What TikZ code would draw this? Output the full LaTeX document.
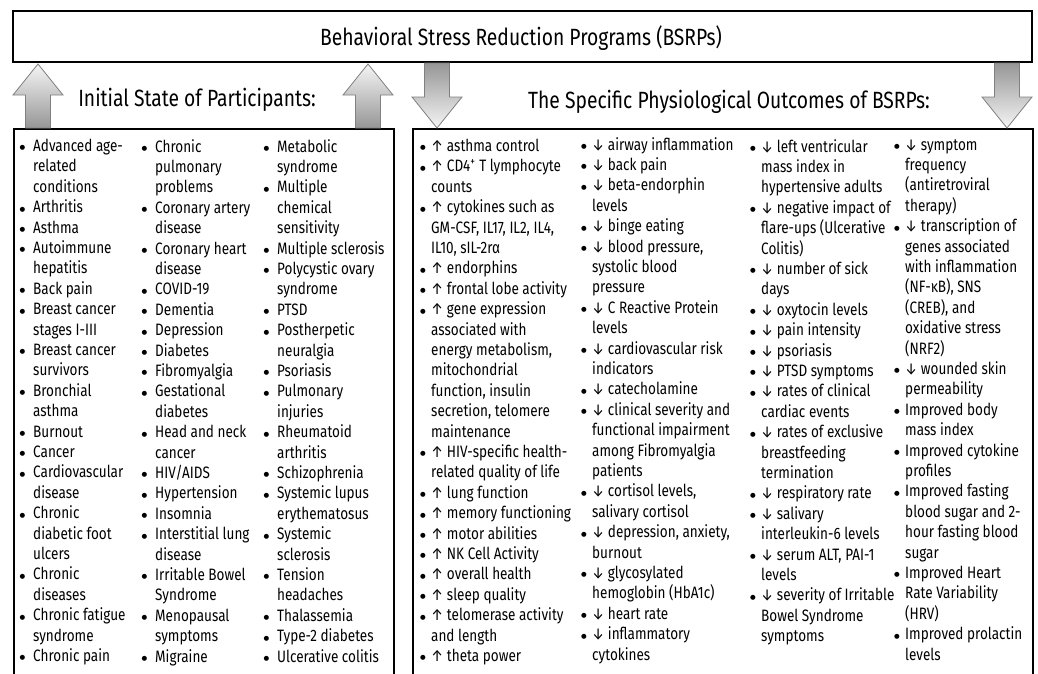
\documentclass[tikz,border=0pt]{standalone}
\usepackage{fontspec}
\setmainfont{Fira Sans}[FakeStretch=0.82]
\newfontfamily\symfont{DejaVu Sans}
\newcommand\bul{\raisebox{1.6pt}{\symfont\fontsize{6.5}{6.5}\selectfont ●}}
\newcommand\Bu{\makebox[14pt][l]{\hspace{0.5pt}\bul}}
\newcommand\In{\hspace*{14pt}}
\newcommand\Bv{\makebox[11pt][l]{\bul}}
\newcommand\Iv{\hspace*{11pt}}
\begin{document}
\begin{tikzpicture}[x=1pt,y=-1pt,
  box/.style={draw=black, line width=1.8pt, fill=white, inner sep=0pt},
  listcol/.style={anchor=north west, align=left, inner sep=0pt, font=\fontsize{16.5}{20.4}\selectfont},
  ttl/.style={inner sep=0pt, font=\fontsize{23.5}{26}\selectfont},
  blockup/.style={draw={rgb,255:red,128;green,128;blue,128}, line width=0.8pt, top color={rgb,255:red,245;green,245;blue,245}, bottom color={rgb,255:red,150;green,150;blue,150}},
  blockdown/.style={draw={rgb,255:red,128;green,128;blue,128}, line width=0.8pt, top color={rgb,255:red,150;green,150;blue,150}, bottom color={rgb,255:red,245;green,245;blue,245}}]
\useasboundingbox (0,0) rectangle (1038,673);
\clip (0,0) rectangle (1038,673);
\fill[white] (0,0) rectangle (1038,673);

% boxes
\node[box, minimum width=1019pt, minimum height=51pt] (bsrp) at (522.5,36.5) {};
\node[ttl] (bsrptxt) at (521,38) {Behavioral Stress Reduction Programs (BSRPs)};
\node[box, anchor=north west, minimum width=380pt, minimum height=580pt] (initbox) at (13,128) {};
\node[box, anchor=north west, minimum width=620pt, minimum height=580pt] (outbox) at (412,128) {};

% titles
\node[ttl] (inittitle) at (197,100) {Initial State of Participants:};
\node[ttl] (outtitle) at (729,102) {The Specific Physiological Outcomes of BSRPs:};

% block arrows (up: from lower box to top box; down: from top box to lower box)
\foreach \cx in {38,368}{
  \path[blockup] (\cx-12.5,128) -- (\cx-12.5,95) -- (\cx-25,95) -- (\cx,64) -- (\cx+25,95) -- (\cx+12.5,95) -- (\cx+12.5,128) -- cycle;
}
\foreach \cx in {437,1007}{
  \path[blockdown] (\cx-12.5,63) -- (\cx-12.5,97) -- (\cx-25,97) -- (\cx,128) -- (\cx+25,97) -- (\cx+12.5,97) -- (\cx+12.5,63) -- cycle;
}

% left lists
\node[listcol] (l1) at (19,139) {%
\Bu Advanced age-\\ \In related\\ \In conditions\\
\Bu Arthritis\\
\Bu Asthma\\
\Bu Autoimmune\\ \In hepatitis\\
\Bu Back pain\\
\Bu Breast cancer\\ \In stages I-III\\
\Bu Breast cancer\\ \In survivors\\
\Bu Bronchial\\ \In asthma\\
\Bu Burnout\\
\Bu Cancer\\
\Bu Cardiovascular\\ \In disease\\
\Bu Chronic\\ \In diabetic foot\\ \In ulcers\\
\Bu Chronic\\ \In diseases\\
\Bu Chronic fatigue\\ \In syndrome\\
\Bu Chronic pain};

\node[listcol] (l2) at (141,139) {%
\Bu Chronic\\ \In pulmonary\\ \In problems\\
\Bu Coronary artery\\ \In disease\\
\Bu Coronary heart\\ \In disease\\
\Bu COVID-19\\
\Bu Dementia\\
\Bu Depression\\
\Bu Diabetes\\
\Bu Fibromyalgia\\
\Bu Gestational\\ \In diabetes\\
\Bu Head and neck\\ \In cancer\\
\Bu HIV/AIDS\\
\Bu Hypertension\\
\Bu Insomnia\\
\Bu Interstitial lung\\ \In disease\\
\Bu Irritable Bowel\\ \In Syndrome\\
\Bu Menopausal\\ \In symptoms\\
\Bu Migraine};

\node[listcol] (l3) at (263,139) {%
\Bu Metabolic\\ \In syndrome\\
\Bu Multiple\\ \In chemical\\ \In sensitivity\\
\Bu Multiple sclerosis\\
\Bu Polycystic ovary\\ \In syndrome\\
\Bu PTSD\\
\Bu Postherpetic\\ \In neuralgia\\
\Bu Psoriasis\\
\Bu Pulmonary\\ \In injuries\\
\Bu Rheumatoid\\ \In arthritis\\
\Bu Schizophrenia\\
\Bu Systemic lupus\\ \In erythematosus\\
\Bu Systemic\\ \In sclerosis\\
\Bu Tension\\ \In headaches\\
\Bu Thalassemia\\
\Bu Type-2 diabetes\\
\Bu Ulcerative colitis};

% right lists
\node[listcol] (r1) at (420,139) {%
\Bv ↑ asthma control\\
\Bv ↑ CD4\textsuperscript{+} T lymphocyte\\ \Iv counts\\
\Bv ↑ cytokines such as\\ \Iv GM-CSF, IL17, IL2, IL4,\\ \Iv IL10, sIL-2rα\\
\Bv ↑ endorphins\\
\Bv ↑ frontal lobe activity\\
\Bv ↑ gene expression\\ \Iv associated with\\ \Iv energy metabolism,\\ \Iv mitochondrial\\ \Iv function, insulin\\ \Iv secretion, telomere\\ \Iv maintenance\\
\Bv ↑ HIV-specific health-\\ \Iv related quality of life\\
\Bv ↑ lung function\\
\Bv ↑ memory functioning\\
\Bv ↑ motor abilities\\
\Bv ↑ NK Cell Activity\\
\Bv ↑ overall health\\
\Bv ↑ sleep quality\\
\Bv ↑ telomerase activity\\ \Iv and length\\
\Bv ↑ theta power};

\node[listcol] (r2) at (581,137) {%
\Bv ↓ airway inflammation\\
\Bv ↓ back pain\\
\Bv ↓ beta-endorphin\\ \Iv levels\\
\Bv ↓ binge eating\\
\Bv ↓ blood pressure,\\ \Iv systolic blood\\ \Iv pressure\\
\Bv ↓ C Reactive Protein\\ \Iv levels\\
\Bv ↓ cardiovascular risk\\ \Iv indicators\\
\Bv ↓ catecholamine\\
\Bv ↓ clinical severity and\\ \Iv functional impairment\\ \Iv among Fibromyalgia\\ \Iv patients\\
\Bv ↓ cortisol levels,\\ \Iv salivary cortisol\\
\Bv ↓ depression, anxiety,\\ \Iv burnout\\
\Bv ↓ glycosylated\\ \Iv hemoglobin (HbA1c)\\
\Bv ↓ heart rate\\
\Bv ↓ inflammatory\\ \Iv cytokines};

\node[listcol] (r3) at (750,139) {%
\Bv ↓ left ventricular\\ \Iv mass index in\\ \Iv hypertensive adults\\
\Bv ↓ negative impact of\\ \Iv flare-ups (Ulcerative\\ \Iv Colitis)\\
\Bv ↓ number of sick\\ \Iv days\\
\Bv ↓ oxytocin levels\\
\Bv ↓ pain intensity\\
\Bv ↓ psoriasis\\
\Bv ↓ PTSD symptoms\\
\Bv ↓ rates of clinical\\ \Iv cardiac events\\
\Bv ↓ rates of exclusive\\ \Iv breastfeeding\\ \Iv termination\\
\Bv ↓ respiratory rate\\
\Bv ↓ salivary\\ \Iv interleukin-6 levels\\
\Bv ↓ serum ALT, PAI-1\\ \Iv levels\\
\Bv ↓ severity of Irritable\\ \Iv Bowel Syndrome\\ \Iv symptoms};

\node[listcol] (r4) at (894,139) {%
\Bv ↓ symptom\\ \Iv frequency\\ \Iv (antiretroviral\\ \Iv therapy)\\
\Bv ↓ transcription of\\ \Iv genes associated\\ \Iv with inflammation\\ \Iv (NF-κB), SNS\\ \Iv (CREB), and\\ \Iv oxidative stress\\ \Iv (NRF2)\\
\Bv ↓ wounded skin\\ \Iv permeability\\
\Bv Improved body\\ \Iv mass index\\
\Bv Improved cytokine\\ \Iv profiles\\
\Bv Improved fasting\\ \Iv blood sugar and 2-\\ \Iv hour fasting blood\\ \Iv sugar\\
\Bv Improved Heart\\ \Iv Rate Variability\\ \Iv (HRV)\\
\Bv Improved prolactin\\ \Iv levels};
\end{tikzpicture}
\end{document}
